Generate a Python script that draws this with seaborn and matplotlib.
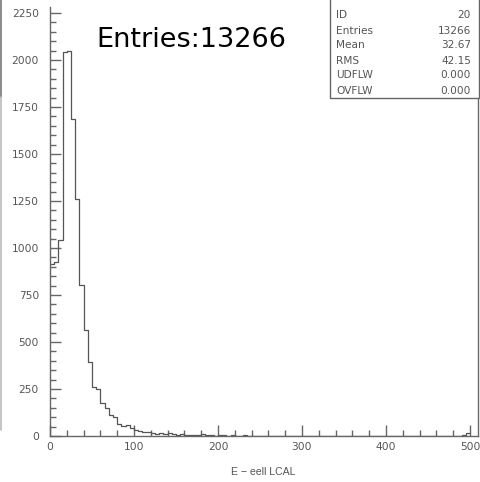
import numpy as np
import pandas as pd
import matplotlib
matplotlib.use("Agg")
import matplotlib.pyplot as plt
from matplotlib.patches import Rectangle
from matplotlib.lines import Line2D
from matplotlib.ticker import MultipleLocator
import seaborn as sns

# Histogram 20: energy deposit in the LCAL cell, 5-unit bins from 0 to 500
bin_width = 5
x_range = (0, 500)
counts = [
    915, 925, 1040, 2040, 2048, 1685, 1262, 805, 565, 393,
    259, 248, 174, 147, 114, 100, 66, 54, 58, 41,
    33, 27, 23, 19, 16, 12, 15, 9, 14, 11,
    6, 8, 5, 7, 6, 4, 9, 3, 6, 2,
    4, 3, 2, 3, 1, 2, 3, 1, 2, 1,
    2, 1, 0, 2, 1, 1, 0, 2, 1, 0,
    1, 2, 0, 1, 1, 0, 1, 0, 2, 0,
    1, 1, 0, 1, 0, 1, 0, 1, 0, 2,
    1, 0, 1, 0, 1, 0, 1, 0, 2, 0,
    1, 0, 1, 1, 0, 2, 1, 2, 6, 17,
]
x_label = "E \u2212 eell LCAL"
title_text = "Entries:13266"
stats_labels = ["ID", "Entries", "Mean", "RMS", "UDFLW", "OVFLW"]
stats_values = ["20", "13266", "32.67", "42.15", "0.000", "0.000"]

edges = np.arange(x_range[0], x_range[1] + bin_width, bin_width)
centers = edges[:-1] + bin_width / 2
df = pd.DataFrame({"E": centers, "n": counts})

sns.set_style("ticks")
plt.rcParams["font.family"] = ["DejaVu Sans"]

W, H = 480, 482
fig = plt.figure(figsize=(W / 100, H / 100), dpi=100)
ax = fig.add_axes([50 / W, (H - 436) / H, 428.4 / W, 428.7 / H])

sns.histplot(data=df, x="E", weights="n", bins=edges.tolist(), element="step",
             fill=False, color="#555555", linewidth=0.9, ax=ax)

ax.set_xlim(0, 510)
ax.set_ylim(0, 2280)
ax.set_xlabel("")
ax.set_ylabel("")

ax.xaxis.set_major_locator(MultipleLocator(100))
ax.xaxis.set_minor_locator(MultipleLocator(20))
ax.yaxis.set_major_locator(MultipleLocator(250))
ax.yaxis.set_minor_locator(MultipleLocator(50))
ax.tick_params(which="both", direction="in", color="#666666", width=1.0,
               top=False, right=False, labelcolor="#555555", labelsize=7.7)
ax.tick_params(which="major", length=8)
ax.tick_params(which="minor", length=4)
ax.tick_params(axis="y", pad=8)
ax.tick_params(axis="x", pad=4)

for side in ("left", "bottom", "right"):
    ax.spines[side].set_color("#666666")
    ax.spines[side].set_linewidth(1.0)
ax.spines["top"].set_visible(False)

fig.text(263 / W, (H - 472) / H, x_label, ha="center", va="center",
         fontsize=7.6, color="#555555", family=["Liberation Sans"])

fig.text(96 / W, (H - 46.7) / H, title_text, ha="left", va="baseline",
         fontsize=19.5, color="black", family=["DejaVu Sans"])

# statistics box in the upper right corner
box_left, box_right, box_bottom = 330, 479, 97.5
fig.add_artist(Rectangle((box_left / W, (H - box_bottom) / H),
                         (box_right - box_left) / W, box_bottom / H + 0.01,
                         transform=fig.transFigure, facecolor="white",
                         edgecolor="#666666", linewidth=1.0, zorder=5))
for i, (lab, val) in enumerate(zip(stats_labels, stats_values)):
    yy = (H - (15.5 + 15.0 * i)) / H
    fig.text(336 / W, yy, lab, ha="left", va="center", fontsize=7.6,
             color="#555555", zorder=6)
    fig.text(471 / W, yy, val, ha="right", va="center", fontsize=7.6,
             color="#555555", zorder=6)

# frame edge of the neighbouring panel along the left border
fig.add_artist(Line2D([0.8 / W, 0.8 / W], [1.0, (H - 97) / H],
                      transform=fig.transFigure, color="#777777", lw=1.2))
fig.add_artist(Line2D([0.8 / W, 0.8 / W], [(H - 97) / H, (H - 430) / H],
                      transform=fig.transFigure, color="#bbbbbb", lw=1.2))

fig.savefig("out.png", dpi=100)
